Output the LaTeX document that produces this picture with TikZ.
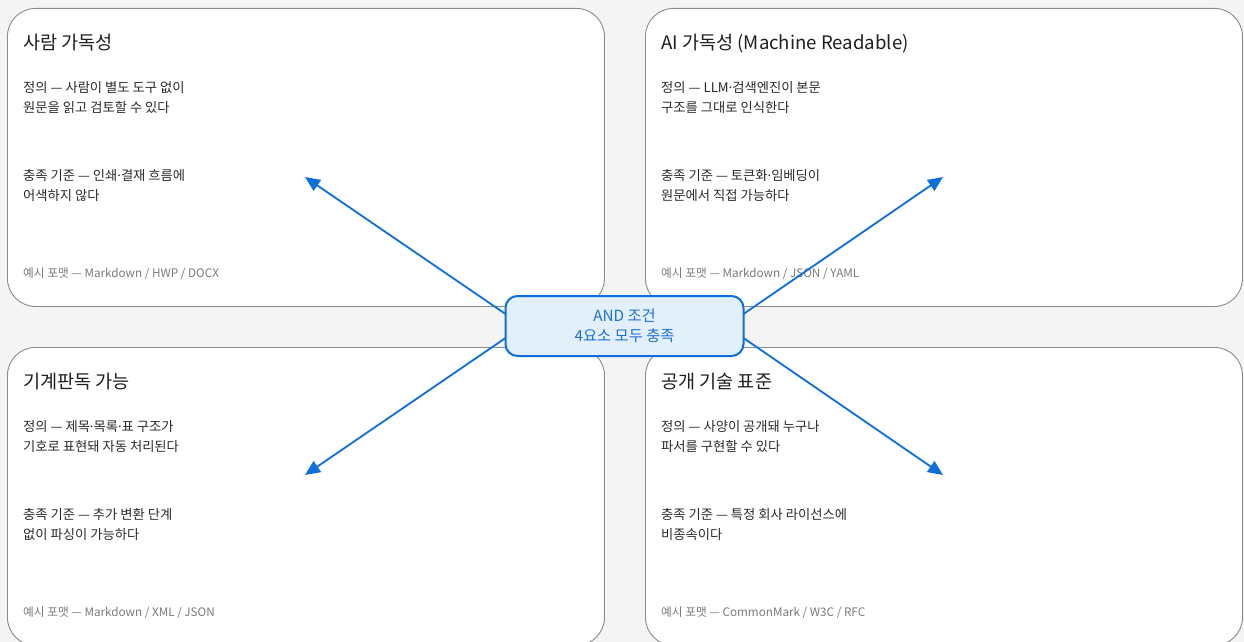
\documentclass[tikz,border=0pt]{standalone}
\usepackage{fontspec}
\setmainfont{Noto Sans CJK KR}
\newfontfamily\latinfont{Noto Sans}
\newcommand{\mdot}{{\latinfont ·}}
\usetikzlibrary{arrows.meta,positioning}
\definecolor{bg}{HTML}{F4F4F4}
\definecolor{cardline}{HTML}{8A8A8A}
\definecolor{ink}{HTML}{1F1F1F}
\definecolor{body}{HTML}{2A2A2A}
\definecolor{muted}{HTML}{7A7A7A}
\definecolor{accent}{HTML}{0B6FDE}
\definecolor{accentfill}{HTML}{E3F0FC}
\definecolor{accenttext}{HTML}{1A6FD6}
\tikzset{
  card/.style={draw=cardline, line width=0.9pt, fill=white, rounded corners=28pt,
    minimum width=597pt, minimum height=298pt, inner sep=0pt, anchor=north west},
  cardtitle/.style={anchor=base west, inner sep=0pt, text=ink, font=\fontsize{18.6}{22}\selectfont},
  cardbody/.style={anchor=base west, inner sep=0pt, text=body, align=left, font=\fontsize{13.3}{20}\selectfont},
  cardfoot/.style={anchor=base west, inner sep=0pt, text=muted, font=\fontsize{11.7}{14}\selectfont},
  hub/.style={draw=accent, line width=2pt, fill=accentfill, rounded corners=12pt,
    minimum width=238pt, minimum height=60pt, align=center, text=accenttext,
    font=\fontsize{15.3}{20}\selectfont},
  link/.style={draw=accent, line width=1.8pt, -{Triangle[length=15pt,width=13pt]}}
}
\begin{document}
\begin{tikzpicture}[x=1pt,y=-1pt]
\useasboundingbox (0,0) rectangle (1244,642);
\clip (0,0) rectangle (1244,642);
\fill[bg] (0,0) rectangle (1244,642);

% cards
\node[card] (c1) at (7,8) {};
\node[card] (c2) at (645,8) {};
\node[card] (c3) at (7,347) {};
\node[card] (c4) at (645,347) {};

% card 1 (body node anchors are at the baseline of the last line)
\node[cardtitle] (t1) at (23,49) {사람 가독성};
\node[cardbody] (d1) at (23,112) {정의 — 사람이 별도 도구 없이\\원문을 읽고 검토할 수 있다};
\node[cardbody] (k1) at (23,200) {충족 기준 — 인쇄\mdot 결재 흐름에\\어색하지 않다};
\node[cardfoot] (f1) at (23,277) {예시 포맷 — Markdown / HWP / DOCX};

% card 2
\node[cardtitle] (t2) at (661,49) {AI 가독성 (Machine Readable)};
\node[cardbody] (d2) at (661,112) {정의 — LLM\mdot 검색엔진이 본문\\구조를 그대로 인식한다};
\node[cardbody] (k2) at (661,200) {충족 기준 — 토큰화\mdot 임베딩이\\원문에서 직접 가능하다};
\node[cardfoot] (f2) at (661,277) {예시 포맷 — Markdown / JSON / YAML};

% card 3
\node[cardtitle] (t3) at (23,388) {기계판독 가능};
\node[cardbody] (d3) at (23,451) {정의 — 제목\mdot 목록\mdot 표 구조가\\기호로 표현돼 자동 처리된다};
\node[cardbody] (k3) at (23,539) {충족 기준 — 추가 변환 단계\\없이 파싱이 가능하다};
\node[cardfoot] (f3) at (23,616) {예시 포맷 — Markdown / XML / JSON};

% card 4
\node[cardtitle] (t4) at (661,388) {공개 기술 표준};
\node[cardbody] (d4) at (661,451) {정의 — 사양이 공개돼 누구나\\파서를 구현할 수 있다};
\node[cardbody] (k4) at (661,539) {충족 기준 — 특정 회사 라이선스에\\비종속이다};
\node[cardfoot] (f4) at (661,616) {예시 포맷 — CommonMark / W3C / RFC};

% hub position and arrow coordinates
\coordinate (hubc) at (624.5,326);
\coordinate (e1) at (305,177);
\coordinate (e2) at (943,177);
\coordinate (e3) at (305,475);
\coordinate (e4) at (943,475);
\coordinate (s1) at (507,315);
\coordinate (s2) at (742,315);
\coordinate (s3) at (507,337);
\coordinate (s4) at (742,337);

\draw[link] (s1) -- (e1);
\draw[link] (s2) -- (e2);
\draw[link] (s3) -- (e3);
\draw[link] (s4) -- (e4);

\node[hub] (and) at (hubc) {AND 조건\\4요소 모두 충족};
\end{tikzpicture}
\end{document}
